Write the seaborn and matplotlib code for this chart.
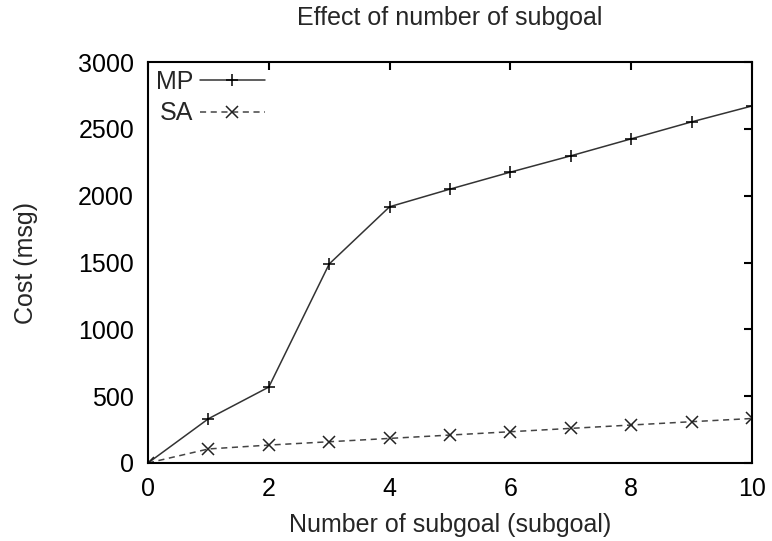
import matplotlib
matplotlib.use("Agg")
import matplotlib.pyplot as plt
import seaborn as sns
import numpy as np
import pandas as pd

x_vals = [0, 1, 2, 3, 4, 5, 6, 7, 8, 9, 10]
mp_vals = [0, 331, 568, 1489, 1917, 2049, 2176, 2298, 2425, 2552, 2671]
sa_vals = [0, 105, 134, 159, 184, 209, 234, 259, 284, 309, 333]
x_ticks = [0, 2, 4, 6, 8, 10]
y_ticks = [0, 500, 1000, 1500, 2000, 2500, 3000]

sns.set_theme(style="white")
plt.rcParams['font.family'] = ['Liberation Sans', 'DejaVu Sans']

fig = plt.figure(figsize=(7.72, 5.41), dpi=100)
ax = fig.add_axes([148/772, 1-463/541, (752-148)/772, (463-62)/541])

df_mp = pd.DataFrame({"x": x_vals, "y": mp_vals})
df_sa = pd.DataFrame({"x": x_vals, "y": sa_vals})
sns.lineplot(data=df_mp, x="x", y="y", ax=ax, color="#333333", linewidth=1.1,
             marker="+", markersize=9, markeredgewidth=1.1, markeredgecolor="black",
             label="MP")
sns.lineplot(data=df_sa, x="x", y="y", ax=ax, color="#444444", linewidth=1.1,
             linestyle=(0, (4, 3)), marker="x", markersize=8, markeredgewidth=1.1,
             markeredgecolor="#222222", label="SA")

ax.set_xlim(0, 10)
ax.set_ylim(0, 3000)
ax.set_xticks(x_ticks)
ax.set_yticks(y_ticks)
ax.tick_params(direction="in", length=6, width=1.5, top=True, right=True,
               labelsize=18, colors="black", pad=10)
for s in ax.spines.values():
    s.set_color("black")
    s.set_linewidth(1.5)
    s.set_visible(True)

ax.set_xlabel("Number of subgoal (subgoal)", fontsize=18, labelpad=9)
ax.set_ylabel("Cost (msg)", fontsize=18, labelpad=29)
ax.set_title("Effect of number of subgoal", fontsize=18, pad=27)

leg = ax.legend(loc="upper left", frameon=False, markerfirst=False, fontsize=18,
                handlelength=2.6, handletextpad=0.25, borderaxespad=0.1,
                labelspacing=0.3, borderpad=0.22)

fig.savefig("out.png", dpi=100)
